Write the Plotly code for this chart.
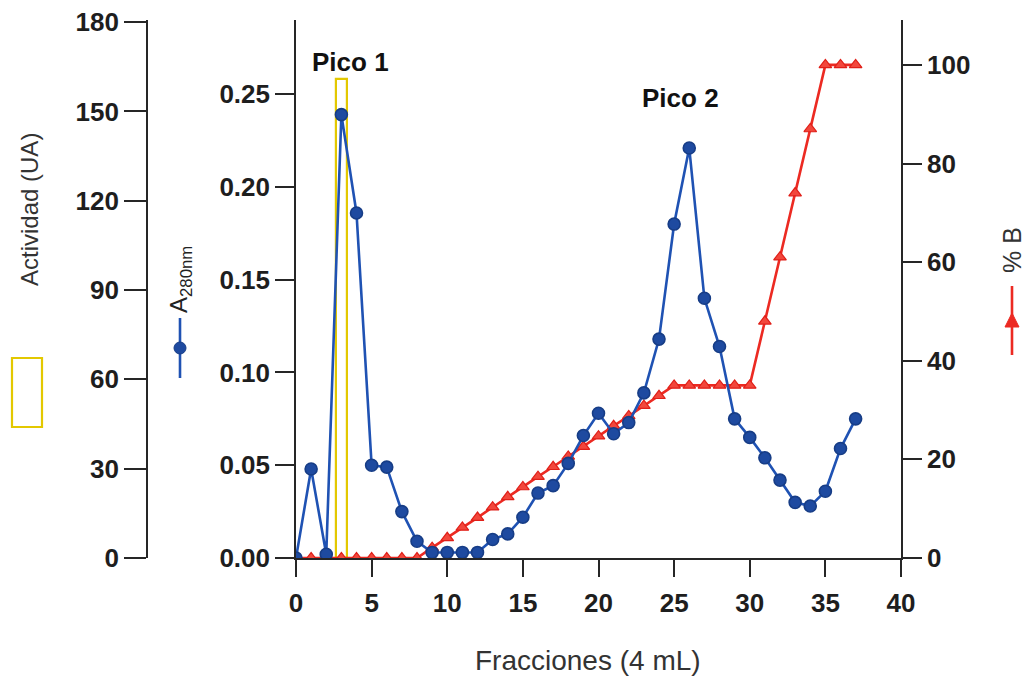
import plotly.graph_objects as go

# Fraction number (x) and measured series
fractions = list(range(38))
a280 = [0.000, 0.048, 0.002, 0.239, 0.186, 0.050, 0.049, 0.025, 0.009, 0.003,
        0.003, 0.003, 0.003, 0.010, 0.013, 0.022, 0.035, 0.039, 0.051, 0.066,
        0.078, 0.067, 0.073, 0.089, 0.118, 0.180, 0.221, 0.140, 0.114, 0.075,
        0.065, 0.054, 0.042, 0.030, 0.028, 0.036, 0.059, 0.075]
pct_b = [0, 0, 0, 0, 0, 0, 0, 0, 0, 2.1,
         4.1, 6.2, 8.2, 10.3, 12.4, 14.4, 16.5, 18.5, 20.6, 22.6,
         24.7, 26.8, 28.8, 30.9, 32.9, 35, 35, 35, 35, 35,
         35, 48, 61, 74, 87, 100, 100, 100]
activity_fraction = [3]
activity = [161]

W, H = 1030, 681
FONT = "Liberation Sans, Arial, sans-serif"
AXIS = "#262626"
TXT = "#1e1e1e"
BLUE = "#1f52b3"
BLUE_DARK = "#173d86"
RED = "#ec2a22"
YELLOW = "#e3c800"


def px(x):
    return x / W


def py(y):
    return 1 - y / H


x_dom = [px(296), px(901)]
y_dom = [py(558), py(20)]

fig = go.Figure()

fig.add_trace(go.Bar(
    x=activity_fraction, y=activity, width=0.75, yaxis="y",
    marker=dict(color="rgba(255,255,255,0)", line=dict(color=YELLOW, width=2.2)),
    name="Actividad (UA)",
))
fig.add_trace(go.Scatter(
    x=fractions, y=pct_b, yaxis="y2", mode="lines+markers",
    line=dict(color=RED, width=2.6),
    marker=dict(symbol="triangle-up", size=11, color="#f2473c",
                line=dict(color="#e01f18", width=1.2)),
    name="% B",
))
fig.add_trace(go.Scatter(
    x=fractions, y=a280, yaxis="y3", mode="lines+markers",
    line=dict(color=BLUE, width=2.6),
    marker=dict(symbol="circle", size=12, color="#1e4aa0",
                line=dict(color=BLUE_DARK, width=1.6)),
    name="A280nm",
))

tickfont = dict(family=FONT, size=26, color=TXT, weight="bold")
common = dict(showline=True, linecolor=AXIS, linewidth=1.6, ticks="outside",
              tickcolor=AXIS, tickwidth=1.6, showgrid=False, zeroline=False,
              tickfont=tickfont, fixedrange=True)

fig.update_layout(
    width=W, height=H,
    margin=dict(l=0, r=0, t=0, b=0, autoexpand=False),
    paper_bgcolor="white", plot_bgcolor="white",
    showlegend=False, bargap=0,
    xaxis=dict(domain=x_dom, range=[0, 40], dtick=5, ticklen=17,
               ticklabelstandoff=4, anchor="y3", automargin=False, **common),
    yaxis=dict(domain=y_dom, range=[0, 180.7], tickvals=[0, 30, 60, 90, 120, 150, 180],
               anchor="free", position=px(147), side="left", ticklen=22,
               automargin=False, **common),
    yaxis2=dict(range=[0, 109.1], tickvals=[0, 20, 40, 60, 80, 100],
                overlaying="y", anchor="x", side="right", ticklen=19,
                automargin=False, **common),
    yaxis3=dict(range=[0, 0.29], tickvals=[0, 0.05, 0.10, 0.15, 0.20, 0.25],
                tickformat=".2f", overlaying="y", anchor="x", side="left",
                ticklen=19, automargin=False, **common),
)

annotations = [
    dict(text="Fracciones (4 mL)", x=px(588), y=py(660),
         font=dict(family=FONT, size=28, color="#333333")),
    dict(text="Actividad (UA)", x=px(30), y=py(210), textangle=-90,
         font=dict(family=FONT, size=24, color="#333333")),
    dict(text="A<sub>280nm</sub>", x=px(180), y=py(280), textangle=-90,
         font=dict(family=FONT, size=24, color="#222222")),
    dict(text="% B", x=px(1012), y=py(250), textangle=-90,
         font=dict(family=FONT, size=25, color="#333333")),
    dict(text="<b>Pico 1</b>", x=px(350), y=py(62),
         font=dict(family=FONT, size=26, color="#111111")),
    dict(text="<b>Pico 2</b>", x=px(680), y=py(98),
         font=dict(family=FONT, size=26, color="#111111")),
]
for a in annotations:
    a.update(xref="paper", yref="paper", showarrow=False,
             xanchor="center", yanchor="middle")
fig.update_layout(annotations=annotations)

# Legend keys placed beside the axis titles
shapes = [
    dict(type="rect", x0=px(12), x1=px(42), y0=py(358), y1=py(427),
         line=dict(color=YELLOW, width=2.2)),
    dict(type="line", x0=px(180), x1=px(180), y0=py(318), y1=py(378),
         line=dict(color=BLUE, width=2.6)),
    dict(type="circle", x0=px(174), x1=px(186), y0=py(342), y1=py(354),
         fillcolor="#1e4aa0", line=dict(color=BLUE_DARK, width=1)),
    dict(type="line", x0=px(1012), x1=px(1012), y0=py(286), y1=py(355),
         line=dict(color=RED, width=2.6)),
    dict(type="path",
         path=f"M {px(1005)},{py(327)} L {px(1019)},{py(327)} L {px(1012)},{py(313)} Z",
         fillcolor=RED, line=dict(color=RED, width=1)),
]
for s in shapes:
    s.update(xref="paper", yref="paper")
fig.update_layout(shapes=shapes)

fig.write_html("out.html")
